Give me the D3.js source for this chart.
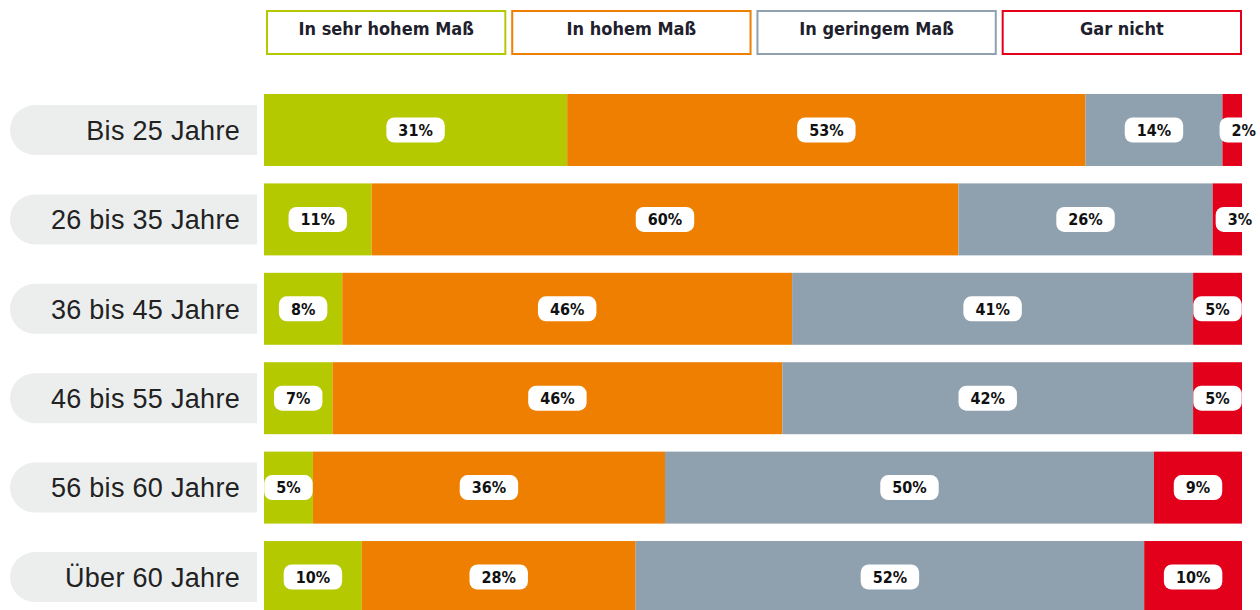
<!DOCTYPE html>
<html>
<head>
<meta charset="utf-8">
<script src="https://cdn.jsdelivr.net/npm/d3@7"></script>
<style>
  body { margin: 0; background: #fff; }
  .cond { font-family: "Liberation Sans Narrow", "DejaVu Sans Condensed", "Roboto Condensed", sans-serif; font-stretch: condensed; font-weight: bold; }
</style>
</head>
<body>
<div id="chart"></div>
<script>
// data
const groups = ["Bis 25 Jahre", "26 bis 35 Jahre", "36 bis 45 Jahre", "46 bis 55 Jahre", "56 bis 60 Jahre", "Über 60 Jahre"];
const series = ["In sehr hohem Maß", "In hohem Maß", "In geringem Maß", "Gar nicht"];
const sehrHoch = [31, 11, 8, 7, 5, 10];
const hoch = [53, 60, 46, 46, 36, 28];
const gering = [14, 26, 41, 42, 50, 52];
const garNicht = [2, 3, 5, 5, 9, 10];
const colors = ["#b5c900", "#ee7f00", "#8fa0ae", "#e2001a"];

const width = 1260, height = 610;

const svg = d3.select("#chart")
    .append("svg")
    .attr("width", width)
    .attr("height", height);

// build rows for the stack
const rows = groups.map((g, i) => ({
    group: g,
    [series[0]]: sehrHoch[i],
    [series[1]]: hoch[i],
    [series[2]]: gering[i],
    [series[3]]: garNicht[i]
}));
const stacked = d3.stack().keys(series)(rows);

const x = d3.scaleLinear().domain([0, 100]).range([264, 1242]);
const y = d3.scaleBand().domain(groups).range([94, 613]).paddingInner(0.195).paddingOuter(0);
const color = d3.scaleOrdinal().domain(series).range(colors);

// legend boxes
const lx = d3.scaleBand().domain(series).range([266, 1242]).paddingInner(0.02);
const legend = svg.append("g").selectAll("g")
    .data(series)
    .join("g")
    .attr("transform", d => `translate(${lx(d)},10)`);
legend.append("rect")
    .attr("x", 1).attr("y", 1)
    .attr("width", lx.bandwidth() - 2)
    .attr("height", 43)
    .attr("fill", "#fff")
    .attr("stroke", d => color(d))
    .attr("stroke-width", 2);
legend.append("text")
    .attr("class", "cond")
    .attr("x", lx.bandwidth() / 2)
    .attr("y", 19)
    .attr("dy", "0.35em")
    .attr("text-anchor", "middle")
    .attr("font-size", 18)
    .attr("fill", "#1f1f2e")
    .text(d => d);

// row labels on grey tabs
const tabW = 247, tabH = 50, r = 25;
const tabs = svg.append("g").selectAll("g")
    .data(groups)
    .join("g")
    .attr("transform", d => `translate(10,${y(d) + y.bandwidth() / 2})`);
tabs.append("path")
    .attr("d", `M${r},${-tabH / 2} H${tabW} V${tabH / 2} H${r} A${r},${r} 0 0 1 ${r},${-tabH / 2} Z`)
    .attr("fill", "#eceeee");
tabs.append("text")
    .attr("x", 230)
    .attr("dy", "0.36em")
    .attr("text-anchor", "end")
    .attr("font-family", "'Liberation Sans', Arial, sans-serif")
    .attr("font-size", 27)
    .attr("letter-spacing", 0.3)
    .attr("fill", "#222")
    .text(d => d);

// bars
const layers = svg.append("g").selectAll("g")
    .data(stacked)
    .join("g")
    .attr("fill", d => color(d.key));
layers.selectAll("rect")
    .data(d => d)
    .join("rect")
    .attr("x", d => x(d[0]))
    .attr("y", d => y(d.data.group))
    .attr("width", d => x(d[1]) - x(d[0]))
    .attr("height", y.bandwidth());

// value labels in white pills
const labels = [];
stacked.forEach(layer => layer.forEach(d => {
    const x0 = x(d[0]), x1 = x(d[1]);
    labels.push({ v: d[1] - d[0], x0, x1, group: d.data.group });
}));
const lab = svg.append("g").selectAll("g")
    .data(labels)
    .join("g");
lab.append("text")
    .attr("class", "cond lbl")
    .attr("font-size", 16)
    .attr("text-anchor", "middle")
    .attr("dy", "0.36em")
    .attr("fill", "#111")
    .text(d => d.v + "%");
lab.each(function (d) {
    const g = d3.select(this);
    const tw = g.select("text").node().getComputedTextLength();
    const pw = tw + 24;
    let cx = (d.x0 + d.x1) / 2;
    if (d.x1 - d.x0 < 35) cx = Math.min(d.x0 + 3 + pw / 2, width - 4 - tw / 2);
    g.attr("transform", `translate(${cx},${y(d.group) + y.bandwidth() / 2})`);
    g.insert("rect", "text")
        .attr("x", -pw / 2).attr("y", -12.5)
        .attr("width", pw).attr("height", 25)
        .attr("rx", 8)
        .attr("fill", "#fff");
});
</script>
</body>
</html>
